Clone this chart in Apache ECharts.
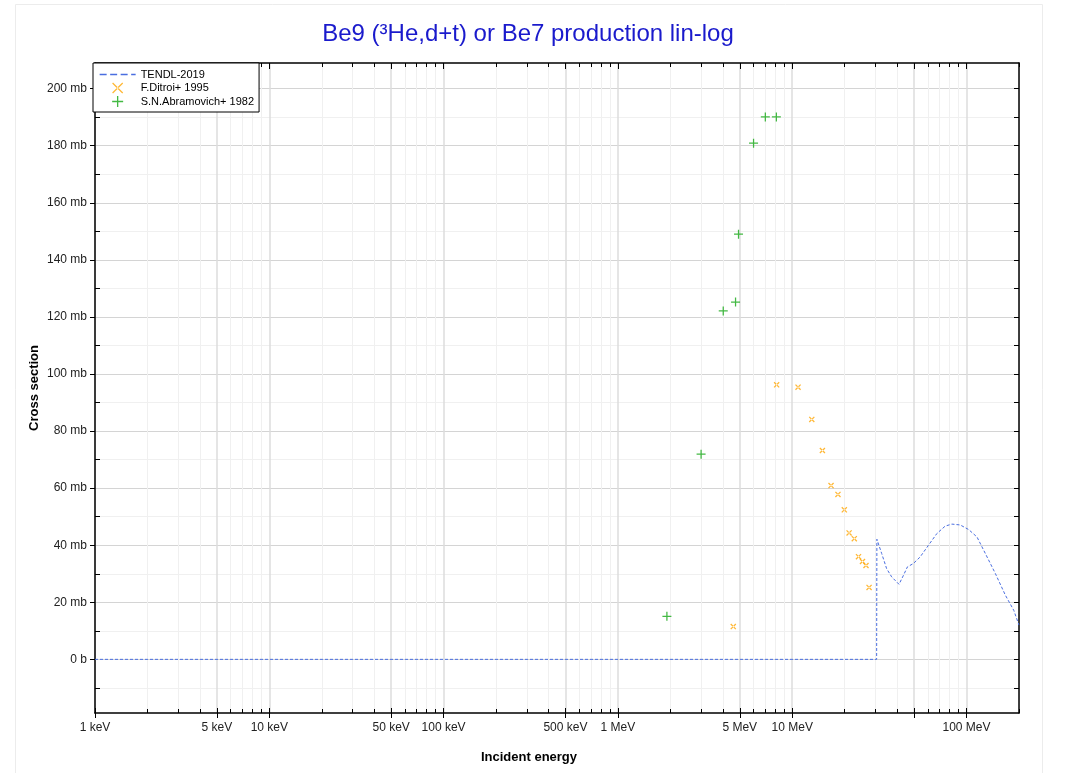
<!DOCTYPE html>
<html>
<head>
<meta charset="utf-8">
<script src="https://cdn.jsdelivr.net/npm/echarts@6/dist/echarts.min.js"></script>
<style>
html,body{margin:0;padding:0;background:#fff;}
#chart{width:1067px;height:773px;}
</style>
</head>
<body>
<div id="chart"></div>
<script>
// ---- Data (energies in MeV, cross sections in mb) ----
const tendlEnergy = [0.001, 30.5, 30.6, 32.6, 34.8, 37.2, 41.0, 43.5, 45.8, 49.6, 54.2, 60.5, 67.6, 75.4, 82.4, 92.0, 102.8, 114.8, 128.2, 146.3, 167.0, 186.6, 200];
const tendlXS     = [0, 0, 42.1, 37.1, 31.8, 28.9, 26.3, 29.5, 32.4, 33.6, 35.9, 40.0, 44.1, 46.7, 47.4, 47.1, 45.5, 42.9, 37.1, 30.1, 22.5, 17.2, 12.0];

const ditroiEnergy = [4.59, 8.14, 10.8, 12.95, 14.9, 16.7, 18.3, 19.9, 21.2, 22.7, 24.0, 25.3, 26.5, 27.6];
const ditroiXS     = [11.5, 96.2, 95.4, 84.1, 73.2, 60.9, 57.8, 52.4, 44.3, 42.3, 36.0, 34.3, 32.9, 25.2];

const abramEnergy = [1.91, 3.0, 4.02, 4.73, 4.92, 6.0, 7.01, 8.11];
const abramXS     = [15.1, 71.9, 122.1, 125.2, 149.0, 180.9, 190.1, 190.1];

// ---- Axis ticks ----
const xLabelValues = [0.001, 0.005, 0.01, 0.05, 0.1, 0.5, 1, 5, 10, 100];
const xMajorTicks  = [0.001, 0.005, 0.01, 0.05, 0.1, 0.5, 1, 5, 10, 50, 100];
const xMinorTicks  = [];
[0.001, 0.01, 0.1, 1, 10, 100].forEach(d => [2, 3, 4, 6, 7, 8, 9].forEach(m => xMinorTicks.push(+(d * m).toPrecision(6))));
const yMajorTicks = [0, 20, 40, 60, 80, 100, 120, 140, 160, 180, 200];
const yMinorTicks = [-10, 10, 30, 50, 70, 90, 110, 130, 150, 170, 190];
const yAllTicks   = [-10, 0, 10, 20, 30, 40, 50, 60, 70, 80, 90, 100, 110, 120, 130, 140, 150, 160, 170, 180, 190, 200];

const X_MIN = 0.001, X_MAX = 200, Y_MIN = -18.8, Y_MAX = 209;

const zip = (a, b) => a.map((v, i) => [v, b[i]]);
const fmtE = v => v >= 1 ? Math.round(v) + ' MeV' : Math.round(v * 1000) + ' keV';
const fmtY = v => v === 0 ? '0 b' : v + ' mb';

const plusPath  = 'path://M4.3,0H5.7V10H4.3Z M0,4.3H10V5.7H0Z';
const crossPath = 'path://M0,1.5L1.5,0L10,8.5L8.5,10Z M10,1.5L8.5,0L0,8.5L1.5,10Z';
const plusThin  = 'path://M4.4,0H5.6V10H4.4Z M0,4.4H10V5.6H0Z';
const crossThin = 'path://M0,0.8L0.8,0L10,9.2L9.2,10Z M10,0.8L9.2,0L0,9.2L0.8,10Z';
const FONT = 'Liberation Sans, Arial, Helvetica, sans-serif';

function xAx(extra) {
  return Object.assign({
    type: 'log', logBase: 10, min: X_MIN, max: X_MAX, gridIndex: 0,
    axisLine: { show: false, onZero: false },
    axisTick: { show: false },
    axisLabel: { show: false },
    splitLine: { show: false },
    minorTick: { show: false }, minorSplitLine: { show: false },
    axisPointer: { show: false }
  }, extra);
}
function yAx(extra) {
  return Object.assign({
    type: 'value', min: Y_MIN, max: Y_MAX, gridIndex: 0,
    axisLine: { show: false, onZero: false },
    axisTick: { show: false },
    axisLabel: { show: false },
    splitLine: { show: false },
    axisPointer: { show: false }
  }, extra);
}

const chart = echarts.init(document.getElementById('chart'), null, { renderer: 'canvas' });
chart.setOption({
  animation: false,
  backgroundColor: '#fff',
  textStyle: { fontFamily: FONT },
  grid: { left: 95, right: 48, top: 63, bottom: 60, containLabel: false, outerBoundsMode: 'none' },
  graphic: [
    { type: 'rect', z: -10, shape: { x: 15.5, y: 4.5, width: 1027, height: 800 }, style: { fill: 'none', stroke: '#ececec', lineWidth: 1 } },
    { type: 'text', x: 528, y: 34, style: { text: 'Be9 (³He,d+t) or Be7 production lin-log', fill: '#1a1acc', font: '24px ' + FONT, textAlign: 'center', textVerticalAlign: 'middle' } },
    { type: 'text', x: 529, y: 757, style: { text: 'Incident energy', fill: '#000', font: 'bold 13px ' + FONT, textAlign: 'center', textVerticalAlign: 'middle' } },
    { type: 'text', x: 34, y: 388, rotation: Math.PI / 2, style: { text: 'Cross section', fill: '#000', font: 'bold 13px ' + FONT, textAlign: 'center', textVerticalAlign: 'middle' } }
  ],
  legend: {
    orient: 'vertical', left: 93, top: 63,
    padding: [6, 5, 5, 6], itemGap: 2.5, itemWidth: 36, itemHeight: 11,
    backgroundColor: '#fff', borderColor: '#000', borderWidth: 1, borderRadius: 0,
    textStyle: { fontSize: 11, color: '#000', fontFamily: FONT },
    data: [
      { name: 'TENDL-2019', itemStyle: { opacity: 0 }, lineStyle: { type: [7, 3.5], width: 1.3 } },
      { name: 'F.Ditroi+ 1995', icon: crossThin },
      { name: 'S.N.Abramovich+ 1982', icon: plusThin }
    ],
    z: 20
  },
  xAxis: [
    xAx({ position: 'bottom',
      axisLine: { show: true, onZero: false, lineStyle: { color: '#000', width: 1.5 } },
      axisTick: { show: true, inside: false, length: 5, customValues: xMajorTicks, lineStyle: { color: '#000' } },
      axisLabel: { show: true, customValues: xLabelValues, formatter: fmtE, color: '#222', fontSize: 12, margin: 9, fontFamily: FONT },
      splitLine: { show: true, lineStyle: { color: '#dcdcdc', width: 1.5 } } }),
    xAx({ position: 'bottom',
      axisTick: { show: true, inside: true, length: 5, customValues: xMajorTicks, lineStyle: { color: '#000' } } }),
    xAx({ position: 'bottom',
      axisTick: { show: true, inside: true, length: 4, customValues: xMinorTicks, lineStyle: { color: '#000' } },
      splitLine: { show: true, lineStyle: { color: '#f0f0f0', width: 1 } } }),
    xAx({ position: 'top',
      axisLine: { show: true, onZero: false, lineStyle: { color: '#000', width: 1.5 } },
      axisTick: { show: true, inside: true, length: 6, customValues: xMajorTicks, lineStyle: { color: '#000' } } }),
    xAx({ position: 'top',
      axisTick: { show: true, inside: true, length: 4, customValues: xMinorTicks, lineStyle: { color: '#000' } } })
  ],
  yAxis: [
    yAx({ position: 'left',
      axisLine: { show: true, onZero: false, lineStyle: { color: '#000', width: 1.5 } },
      axisTick: { show: true, inside: false, length: 5, customValues: yMajorTicks, lineStyle: { color: '#000' } },
      axisLabel: { show: true, customValues: yMajorTicks, formatter: fmtY, color: '#222', fontSize: 12, margin: 8, fontFamily: FONT },
      splitLine: { show: true, lineStyle: { color: '#d4d4d4', width: 1 } } }),
    yAx({ position: 'left',
      axisTick: { show: true, inside: true, length: 5, customValues: yMinorTicks, lineStyle: { color: '#000' } },
      splitLine: { show: true, lineStyle: { color: '#f0f0f0', width: 1 } } }),
    yAx({ position: 'right',
      axisLine: { show: true, onZero: false, lineStyle: { color: '#000', width: 1.5 } },
      axisTick: { show: true, inside: true, length: 5, customValues: yAllTicks, lineStyle: { color: '#000' } } })
  ],
  series: [
    { name: 'TENDL-2019', type: 'line', xAxisIndex: 0, yAxisIndex: 0,
      data: zip(tendlEnergy, tendlXS), showSymbol: false, symbol: 'none', clip: true,
      lineStyle: { color: '#4a6ee0', width: 1, type: [3, 2] }, itemStyle: { color: '#4a6ee0' }, z: 3 },
    { name: 'F.Ditroi+ 1995', type: 'scatter', xAxisIndex: 0, yAxisIndex: 0,
      data: zip(ditroiEnergy, ditroiXS), symbol: crossPath, symbolSize: 6,
      itemStyle: { color: '#ffa500' }, z: 4 },
    { name: 'S.N.Abramovich+ 1982', type: 'scatter', xAxisIndex: 0, yAxisIndex: 0,
      data: zip(abramEnergy, abramXS), symbol: plusPath, symbolSize: 9,
      itemStyle: { color: '#14a814' }, z: 4 }
  ]
});
</script>
</body>
</html>
